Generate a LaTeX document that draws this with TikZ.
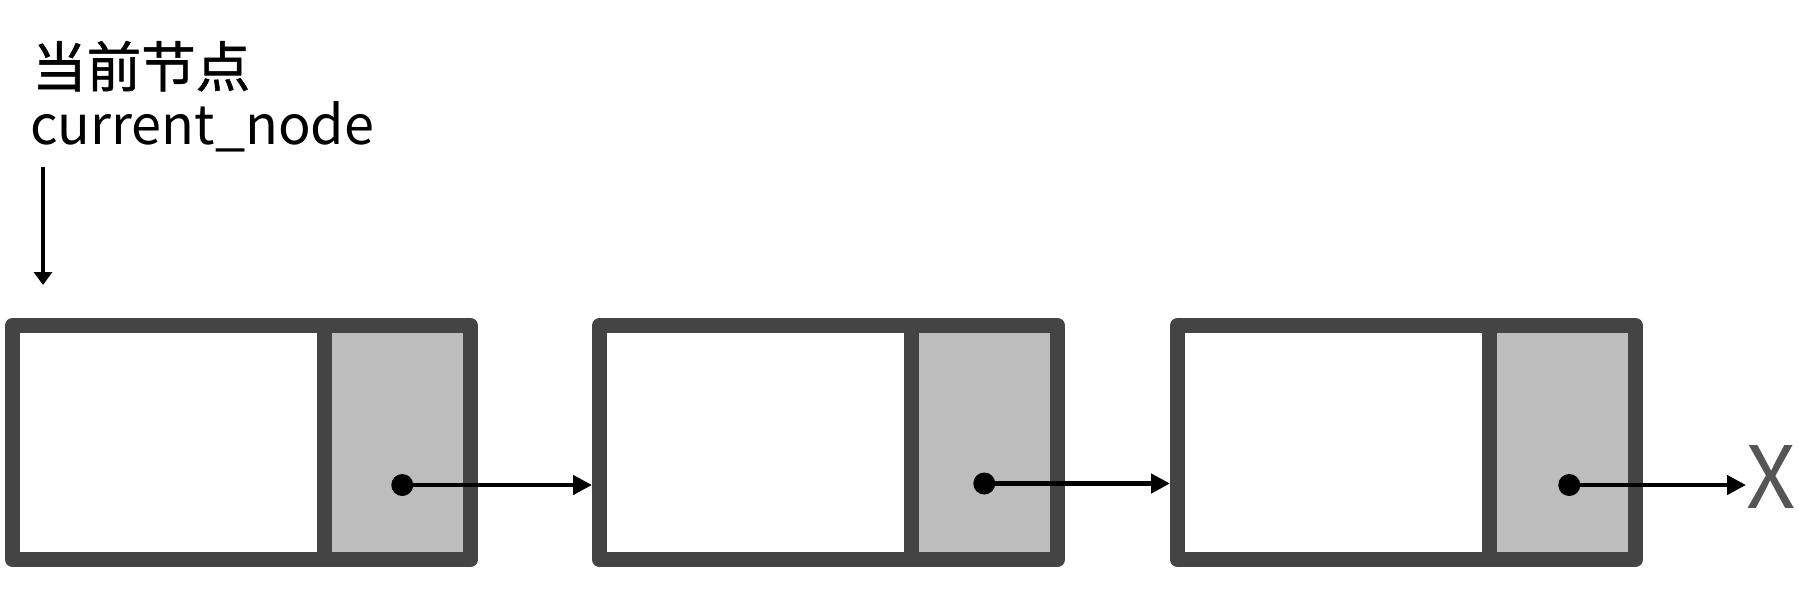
\documentclass[tikz,border=0pt]{standalone}
\usepackage{fontspec}
\setmainfont{Noto Sans CJK SC}
\newfontfamily\cjkfont[FakeBold=1]{Noto Sans CJK SC}
\usepackage{xcolor}
\usetikzlibrary{arrows.meta,positioning,calc}
\definecolor{framegray}{HTML}{444444}
\definecolor{ptrgray}{HTML}{BDBDBD}
\definecolor{nilgray}{HTML}{555555}

\begin{document}
\begin{tikzpicture}[x=1pt, y=-1pt,
    cell/.style={draw=framegray, line width=15pt, line join=round,
                 outer sep=0pt, inner sep=0pt, minimum height=234pt},
    datacell/.style={cell, fill=white, minimum width=311.5pt},
    ptrcell/.style={cell, fill=ptrgray, minimum width=146.5pt},
    ptrdot/.style={circle, fill=black, minimum size=22pt, inner sep=0pt},
    link/.style={line width=4.5pt, -{Triangle[length=19pt,width=19pt]}}]
    \useasboundingbox (0,0) rectangle (1799,592);

    % --- the label and the pointer into the list ---
    \node[anchor=base west, inner sep=0pt, font=\cjkfont\fontsize{54.5}{54.5}\selectfont]
      (cnlabel) at (32,87) {当前节点};
    \node[anchor=base west, inner sep=0pt, font=\fontsize{54}{54}\selectfont]
      (enlabel) at (30,144) {current\_node};
    \coordinate (curtop) at (43,167);
    \coordinate (curtip) at (43,285);
    \draw[line width=4pt, -{Triangle[length=13pt,width=18pt]}] (curtop) -- (curtip);

    % --- three list nodes: data part + next part ---
    \node[datacell] (d1) at (168.25,442.5) {};
    \node[ptrcell, right=0pt of d1] (p1) {};
    \node[datacell, right=129pt of p1] (d2) {};
    \node[ptrcell, right=0pt of d2] (p2) {};
    \node[datacell, right=120pt of p2] (d3) {};
    \node[ptrcell, right=0pt of d3] (p3) {};

    % the next pointers
    \node[ptrdot] (dot1) at ($(p1.center)+(5,42.5)$) {};
    \node[ptrdot] (dot2) at ($(p2.center)+(0,41)$) {};
    \node[ptrdot] (dot3) at ($(p3.center)+(7,42.5)$) {};
    \node[text=nilgray, anchor=west, inner sep=0pt,
          font=\fontsize{86}{86}\selectfont] (nil) at (1746,476.5) {X};

    \draw[link, shorten >=7.5pt] (dot1.center) -- (dot1 -| d2.west);
    \draw[link, shorten >=7.5pt] (dot2.center) -- (dot2 -| d3.west);
    \draw[link] (dot3.center) -- (dot3 -| nil.west);
\end{tikzpicture}
\end{document}
